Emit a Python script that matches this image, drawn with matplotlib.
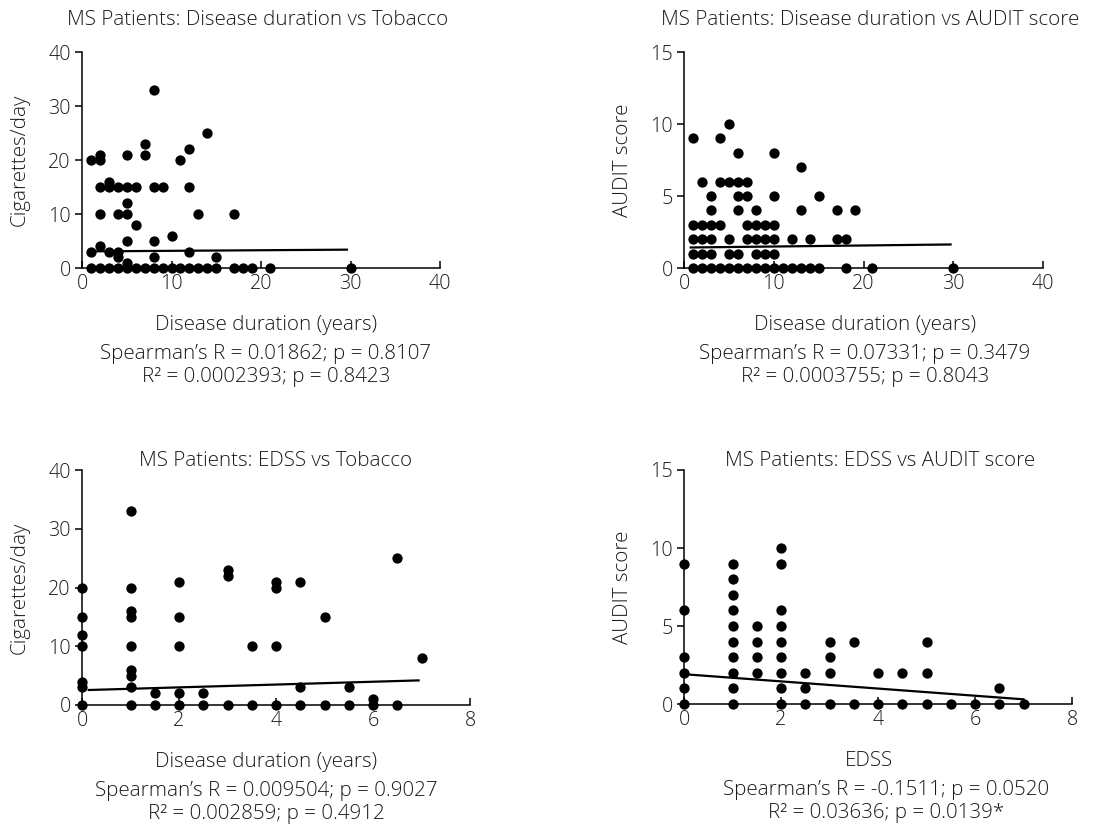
import numpy as np
import matplotlib
matplotlib.use("Agg")
import matplotlib.pyplot as plt

plt.rcParams['font.family'] = ['Open Sans', 'DejaVu Sans']
plt.rcParams['font.weight'] = 'light'

W, H = 1093, 835
TXT = '#1a1a1a'
FS = 14.8      # titles, labels, stats
FS_TICK = 14.2

# Panel 1: disease duration (years) vs cigarettes/day
dur_tob_x = [8, 14, 7, 12, 2, 5, 7, 1, 2, 11, 3,
             2, 3, 4, 5, 6, 8, 9, 12, 5, 2, 4, 5, 13, 17, 6, 10, 5, 8, 2,
             1, 3, 4, 12, 4, 8, 15, 5,
             1, 2, 3, 4, 5, 6, 7, 8, 9, 10, 11, 12, 13, 14, 15, 17, 18, 19, 21, 30]
dur_tob_y = [33, 25, 23, 22, 21, 21, 21, 20, 20, 20, 16,
             15, 15, 15, 15, 15, 15, 15, 15, 12, 10, 10, 10, 10, 10, 8, 6, 5, 5, 4,
             3, 3, 3, 3, 2, 2, 2, 1,
             0, 0, 0, 0, 0, 0, 0, 0, 0, 0, 0, 0, 0, 0, 0, 0, 0, 0, 0, 0]

# Panel 2: disease duration (years) vs AUDIT score
dur_aud_x = [5, 1, 4, 6, 10, 13,
             2, 4, 5, 6, 7,
             3, 6, 7, 10, 15,
             3, 6, 8, 13, 17, 19,
             1, 2, 3, 4, 7, 8, 9, 10,
             1, 2, 3, 5, 7, 8, 9, 10, 12, 14, 17, 18,
             1, 2, 3, 5, 6, 8, 9, 10,
             1, 2, 3, 4, 5, 6, 7, 8, 9, 10, 11, 12, 13, 14, 15, 18, 21, 30]
dur_aud_y = [10, 9, 9, 8, 8, 7,
             6, 6, 6, 6, 6,
             5, 5, 5, 5, 5,
             4, 4, 4, 4, 4, 4,
             3, 3, 3, 3, 3, 3, 3, 3,
             2, 2, 2, 2, 2, 2, 2, 2, 2, 2, 2, 2,
             1, 1, 1, 1, 1, 1, 1, 1,
             0, 0, 0, 0, 0, 0, 0, 0, 0, 0, 0, 0, 0, 0, 0, 0, 0, 0]

# Panel 3: EDSS vs cigarettes/day
edss_tob_x = [0, 0, 0, 0, 0, 0, 0,
              1, 1, 1, 1, 1, 1, 1, 1, 1,
              1.5, 1.5, 2, 2, 2, 2, 2, 2.5, 2.5,
              3, 3, 3, 3.5, 3.5, 4, 4, 4, 4,
              4.5, 4.5, 4.5, 5, 5, 5.5, 5.5, 6, 6, 6.5, 6.5, 7]
edss_tob_y = [20, 15, 12, 10, 4, 3, 0,
              33, 20, 16, 15, 10, 6, 5, 3, 0,
              2, 0, 21, 15, 10, 2, 0, 2, 0,
              23, 22, 0, 10, 0, 21, 20, 10, 0,
              21, 3, 0, 15, 0, 3, 0, 1, 0, 25, 0, 8]

# Panel 4: EDSS vs AUDIT score
edss_aud_x = [0, 0, 0, 0, 0, 0,
              1, 1, 1, 1, 1, 1, 1, 1, 1, 1,
              1.5, 1.5, 1.5, 1.5,
              2, 2, 2, 2, 2, 2, 2, 2, 2,
              2.5, 2.5, 2.5, 3, 3, 3, 3, 3.5, 3.5, 4, 4, 4.5, 4.5,
              5, 5, 5, 5.5, 6, 6.5, 6.5, 7]
edss_aud_y = [9, 6, 3, 2, 1, 0,
              9, 8, 7, 6, 5, 4, 3, 2, 1, 0,
              5, 4, 3, 2,
              10, 9, 6, 5, 4, 3, 2, 1, 0,
              2, 1, 0, 4, 3, 2, 0, 4, 0, 2, 0, 2, 0,
              4, 2, 0, 0, 0, 1, 0, 0]

# linear fits (intercept, slope, x-range)
fits = [(3.07, 0.011, 1.5, 29.6), (1.42, 0.0072, 0.75, 29.7),
        (2.52, 0.24, 0.14, 6.94), (1.91, -0.23, 0.05, 7.0)]

# box = left, right, top, bottom in pixels; tx/ty title centre, lx label centre, sx stats centre
panels = [
    dict(x=dur_tob_x, y=dur_tob_y, box=(82, 440, 52, 268), xlim=40, xt=[0, 10, 20, 30, 40],
         ylim=40, yt=[0, 10, 20, 30, 40], ylab='Cigarettes/day', ylx=20,
         title='MS Patients: Disease duration vs Tobacco', tx=258, ty=20,
         xlab='Disease duration (years)', lx=266, sx=266,
         stats=["Spearman\u2019s R = 0.01862; p = 0.8107", "R\u00b2 = 0.0002393; p = 0.8423"]),
    dict(x=dur_aud_x, y=dur_aud_y, box=(684, 1043, 52, 268), xlim=40, xt=[0, 10, 20, 30, 40],
         ylim=15, yt=[0, 5, 10, 15], ylab='AUDIT score', ylx=623,
         title='MS Patients: Disease duration vs AUDIT score', tx=870, ty=20,
         xlab='Disease duration (years)', lx=865, sx=865,
         stats=["Spearman\u2019s R = 0.07331; p = 0.3479", "R\u00b2 = 0.0003755; p = 0.8043"]),
    dict(x=edss_tob_x, y=edss_tob_y, box=(82, 470, 470, 705), xlim=8, xt=[0, 2, 4, 6, 8],
         ylim=40, yt=[0, 10, 20, 30, 40], ylab='Cigarettes/day', ylx=20,
         title='MS Patients: EDSS vs Tobacco', tx=276, ty=461,
         xlab='Disease duration (years)', lx=266, sx=266,
         stats=["Spearman\u2019s R = 0.009504; p = 0.9027", "R\u00b2 = 0.002859; p = 0.4912"]),
    dict(x=edss_aud_x, y=edss_aud_y, box=(684, 1072, 470, 704), xlim=8, xt=[0, 2, 4, 6, 8],
         ylim=15, yt=[0, 5, 10, 15], ylab='AUDIT score', ylx=623,
         title='MS Patients: EDSS vs AUDIT score', tx=880, ty=461,
         xlab='EDSS', lx=869, sx=886,
         stats=["Spearman\u2019s R = -0.1511; p = 0.0520", "R\u00b2 = 0.03636; p = 0.0139*"]),
]

fig = plt.figure(figsize=(W / 100, H / 100), dpi=100)


def put(px, py, s, **kw):
    # place text by pixel centre
    fig.text(px / W, 1 - py / H, s, ha='center', va='center', fontsize=FS, color=TXT, **kw)


for p, (b0, b1, xa, xb) in zip(panels, fits):
    l, r, t, btm = p['box']
    ax = fig.add_axes([l / W, 1 - btm / H, (r - l) / W, (btm - t) / H])
    ax.scatter(p['x'], p['y'], s=55, color='black', zorder=3, clip_on=False, linewidths=0)
    lx = np.array([xa, xb])
    ax.plot(lx, b0 + b1 * lx, color='black', lw=1.6, zorder=4, clip_on=False)

    ax.set_xlim(0, p['xlim'])
    ax.set_ylim(0, p['ylim'])
    ax.set_xticks(p['xt'])
    ax.set_yticks(p['yt'])
    for s in ['top', 'right']:
        ax.spines[s].set_visible(False)
    for s in ['left', 'bottom']:
        ax.spines[s].set_linewidth(1.1)
        ax.spines[s].set_color('black')
    ax.tick_params(axis='x', direction='in', length=5, width=1.1, labelsize=FS_TICK,
                   labelcolor=TXT, pad=4)
    ax.tick_params(axis='y', direction='out', length=5, width=1.1, labelsize=FS_TICK,
                   labelcolor=TXT, pad=3)

    put(p['tx'], p['ty'], p['title'])
    put(p['lx'], btm + 57, p['xlab'])
    put(p['sx'], btm + 86, p['stats'][0])
    put(p['sx'], btm + 109, p['stats'][1])
    put(p['ylx'], (t + btm) / 2, p['ylab'], rotation=90)

fig.savefig('out.png', dpi=100, facecolor='white')
